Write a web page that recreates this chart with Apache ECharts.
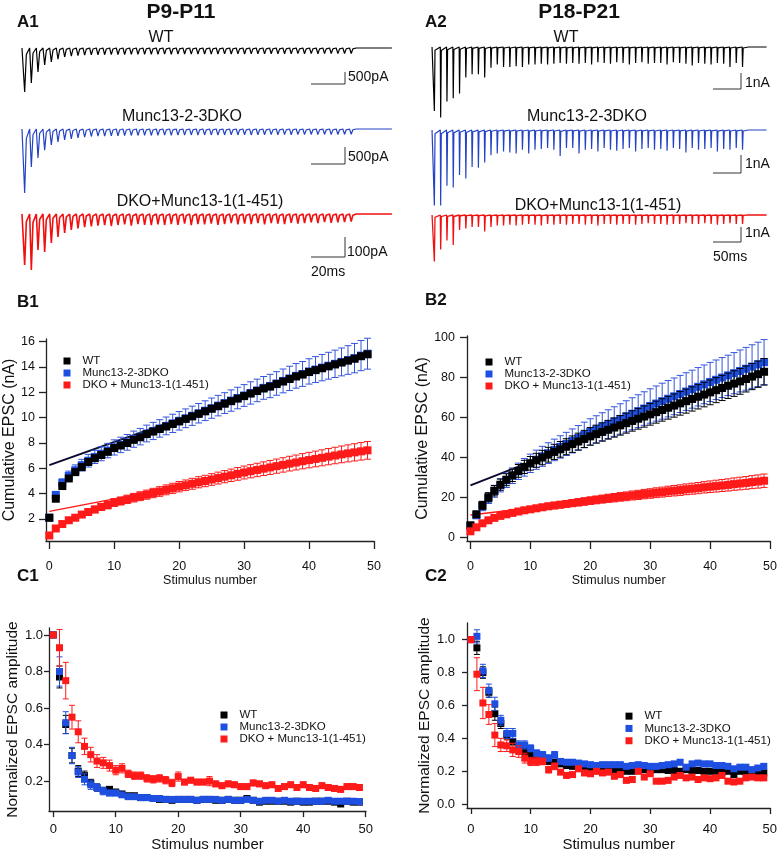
<!DOCTYPE html>
<html><head><meta charset="utf-8">
<script src="https://cdn.jsdelivr.net/npm/echarts@6/dist/echarts.min.js"></script>
<style>html,body{margin:0;padding:0;background:#fff}#chart{width:780px;height:853px}</style>
</head><body><div id="chart"></div>
<script>
// ================= DATA =================
const stimulus = [0,1,2,3,4,5,6,7,8,9,10,11,12,13,14,15,16,17,18,19,20,21,22,23,24,25,26,27,28,29,30,31,32,33,34,35,36,37,38,39,40,41,42,43,44,45,46,47,48,49];
const groupNames = ['WT', 'Munc13-2-3DKO', 'DKO + Munc13-1(1-451)'];
const traceTitles = ['WT', 'Munc13-2-3DKO', 'DKO+Munc13-1(1-451)'];
const panelTitles = ['P9-P11', 'P18-P21'];
const xTicks = [0,10,20,30,40,50];
const yTicksB1 = [2,4,6,8,10,12,14,16];
const yTicksB2 = [0,20,40,60,80,100];
const yTicksC1 = [0.2,0.4,0.6,0.8,1.0];
const yTicksC2 = [0,0.2,0.4,0.6,0.8,1.0];

// A1: EPSC peak amplitudes (pA) per stimulus, P9-P11 example traces
const a1WT  = [1830,1460,1000,710,580,460,375,335,320,300, 290,285,280,275,270,270,265,265,260,260, 260,255,260,255,250,255,250,250,255,250, 245,250,245,250,245,240,245,240,245,240, 240,235,240,235,240,235,230,235,230,230];
const a1KO  = [1880,1120,850,620,470,380,320,290,260,240, 220,210,210,200,200,195,190,190,185,190, 185,180,185,180,180,175,180,175,175,180, 175,170,175,170,175,170,170,165,170,165, 170,165,165,160,165,160,165,160,160,155];
const a1DKO = [255,280,180,190,145,115,95,80,72,66, 62,58,56,60,55,52,58,50,54,56, 52,55,50,54,48,56,50,52,48,54, 50,46,52,48,50,45,52,46,48,50, 44,48,45,42,46,40,44,42,40,38];
// A2: EPSC peak amplitudes (nA), P18-P21 example traces
const a2WT  = [4.0,4.4,3.4,3.2,2.9,1.9,1.7,1.7,1.9,1.3, 1.1,1.25,1.25,1.2,1.25,1.1,1.1,1.05,1.1,1.05, 1.0,1.05,1.0,1.05,1.0,1.1,0.95,1.0,1.05,0.95, 1.0,1.1,1.0,0.95,1.05,1.0,1.0,1.1,0.95,1.0, 1.05,1.15,1.0,1.05,1.1,1.0,1.05,1.25,1.0,1.25];
const a2KO  = [4.2,4.2,3.1,3.2,2.5,2.7,2.05,2.1,1.8,1.4, 1.3,1.2,1.25,1.3,1.1,1.3,1.1,1.05,1.0,1.1, 1.45,1.0,1.0,1.3,1.1,1.05,1.2,1.0,1.1,1.15, 1.05,1.0,1.2,1.05,1.0,1.1,1.05,1.15,1.0,1.05, 1.25,1.0,1.1,1.05,1.0,1.2,1.05,1.1,1.0,1.1];
const a2DKO = [3.1,2.3,1.7,2.0,1.0,0.9,0.8,0.8,1.1,0.8, 0.7,0.7,0.65,0.7,0.65,0.6,0.65,0.7,0.6,0.65, 0.6,0.65,0.6,0.6,0.65,0.6,0.7,0.6,0.6,0.65, 0.6,0.6,0.65,0.6,0.55,0.6,0.6,0.65,0.6,0.6, 0.55,0.6,0.6,0.55,0.6,0.65,0.6,0.55,0.6,0.6];
const stimIntervalA1 = 3.92;   // ms
const stimIntervalA2 = 11.23;  // ms
const scaleBarA1 = [500, 500, 100];   // pA
const scaleBarA1Labels = ['500pA', '500pA', '100pA'];
const scaleBarA2 = [1, 1, 1];         // nA
const scaleBarA2Labels = ['1nA', '1nA', '1nA'];
const scaleBarTime = [20, 50];        // ms
const scaleBarTimeLabels = ['20ms', '50ms'];

// B1: cumulative EPSC (nA), P9-P11
const b1WT  = [2.1,3.6,4.6,5.2,5.7,6.1,6.5,6.8,7.05,7.3, 7.6,7.8,8.0,8.25,8.45,8.7,8.9,9.1,9.3,9.5, 9.7,9.9,10.1,10.3,10.5,10.7,10.9,11.1,11.3,11.5, 11.7,11.9,12.1,12.3,12.45,12.65,12.85,13.05,13.25,13.4, 13.6,13.75,13.9,14.05,14.2,14.35,14.5,14.65,14.85,15.0];
const b1KO  = [2.1,3.9,4.85,5.4,5.85,6.25,6.6,6.9,7.15,7.4, 7.65,7.85,8.05,8.3,8.5,8.75,8.95,9.15,9.35,9.55, 9.75,9.95,10.15,10.35,10.55,10.75,10.95,11.15,11.35,11.55, 11.75,11.95,12.15,12.35,12.5,12.7,12.9,13.1,13.3,13.45, 13.65,13.8,13.95,14.1,14.25,14.4,14.55,14.7,14.9,15.05];
const b1KOerr = [0.1,0.25,0.32,0.38,0.42,0.46,0.5,0.52,0.55,0.57, 0.6,0.61,0.62,0.64,0.65,0.66,0.68,0.69,0.7,0.72, 0.73,0.74,0.76,0.77,0.78,0.8,0.81,0.82,0.84,0.85, 0.86,0.88,0.89,0.9,0.92,0.93,0.94,0.96,0.97,0.98, 1.0,1.02,1.04,1.06,1.08,1.1,1.13,1.16,1.19,1.22];
const b1DKO = [0.7,1.25,1.6,1.9,2.1,2.35,2.55,2.75,2.95,3.1, 3.3,3.42,3.55,3.68,3.8,3.92,4.05,4.17,4.3,4.42, 4.55,4.66,4.78,4.9,5.0,5.12,5.23,5.34,5.45,5.56, 5.67,5.77,5.87,5.97,6.07,6.17,6.27,6.37,6.46,6.56, 6.65,6.74,6.83,6.92,7.01,7.1,7.18,7.26,7.34,7.42];
const b1DKOerr = [0.05,0.1,0.14,0.17,0.2,0.22,0.24,0.26,0.28,0.3, 0.31,0.32,0.33,0.34,0.35,0.36,0.37,0.38,0.39,0.4, 0.41,0.42,0.43,0.44,0.45,0.46,0.47,0.48,0.49,0.5, 0.51,0.52,0.53,0.54,0.55,0.56,0.57,0.58,0.59,0.6, 0.61,0.62,0.63,0.64,0.65,0.66,0.67,0.68,0.69,0.7];
const fitX = [0, 49];
const fitB1WT = [6.25, 15.2];
const fitB1DKO = [2.6, 7.42];

// B2: cumulative EPSC (nA), P18-P21
const b2WT  = [6,11.5,16,20,23.3,26.3,28.8,31,33.2,35.2, 37,38.5,39.9,41.3,42.7,44,45.3,46.6,47.9,49.2, 50.5,51.6,52.7,53.8,54.9,56,57.1,58.2,59.3,60.4, 61.5,62.6,63.7,64.8,65.9,67,68.1,69.2,70.3,71.4, 72.5,73.6,74.7,75.8,76.9,78,79.2,80.4,81.6,82.8];
const b2WTerr = [0.8,1.5,2,2.3,2.6,2.8,3,3.1,3.2,3.3, 3.4,3.5,3.6,3.7,3.8,3.9,4,4.1,4.2,4.3, 4.4,4.5,4.6,4.7,4.8,4.9,5,5.1,5.2,5.3, 5.4,5.5,5.6,5.7,5.8,5.9,6,6.05,6.1,6.15, 6.2,6.25,6.3,6.35,6.4,6.45,6.5,6.55,6.6,6.65];
const b2KO  = [5.5,11,15.5,19.5,23,26,28.5,30.8,33,35, 37,38.8,40.5,42.1,43.7,45.2,46.7,48.2,49.7,51.2, 52.7,54,55.3,56.6,57.9,59.2,60.5,61.8,63.1,64.4, 65.7,66.9,68.1,69.3,70.5,71.7,72.9,74.1,75.3,76.5, 77.7,78.8,79.9,81,82.1,83.2,84.3,85.4,86.5,87.6];
const b2KOerr = [0.8,1.6,2.2,2.6,3,3.3,3.6,3.9,4.1,4.4, 4.6,4.8,5,5.2,5.4,5.6,5.8,6,6.2,6.4, 6.6,6.8,7,7.2,7.4,7.6,7.8,8,8.2,8.4, 8.6,8.8,9,9.1,9.2,9.3,9.4,9.5,9.6,9.7, 9.8,9.9,10,10.1,10.3,10.5,10.7,10.9,11.1,11.3];
const b2DKO = [3,5,7,8.5,9.7,10.7,11.5,12.2,12.9,13.5, 14,14.5,15,15.5,15.9,16.3,16.7,17.1,17.5,17.9, 18.3,18.7,19.1,19.5,19.8,20.2,20.5,20.9,21.2,21.6, 21.9,22.3,22.6,23,23.3,23.6,24,24.3,24.6,25, 25.3,25.6,25.9,26.2,26.6,26.9,27.2,27.6,27.9,28.3];
const b2DKOerr = [0.3,0.5,0.7,0.8,0.9,1,1.1,1.2,1.3,1.35, 1.4,1.45,1.5,1.55,1.6,1.65,1.7,1.75,1.8,1.85, 1.9,1.95,2,2.05,2.1,2.15,2.2,2.25,2.3,2.35, 2.4,2.45,2.5,2.55,2.6,2.65,2.7,2.75,2.8,2.85, 2.9,2.95,3,3.05,3.1,3.15,3.2,3.25,3.3,3.35];
const fitB2WT = [26, 83.4];
const fitB2DKO = [11.2, 28.4];

// C1: normalized EPSC amplitude, P9-P11
const c1WT  = [1.0,0.77,0.51,0.34,0.255,0.23,0.19,0.165,0.15,0.155, 0.14,0.13,0.12,0.12,0.11,0.11,0.105,0.10,0.10,0.095, 0.10,0.10,0.10,0.095,0.10,0.10,0.095,0.095,0.10,0.095, 0.095,0.105,0.095,0.085,0.09,0.09,0.09,0.09,0.085,0.09, 0.085,0.085,0.09,0.09,0.09,0.085,0.075,0.09,0.085,0.085];
const c1WTerr = [0,0.06,0.05,0.04,0.03,0.025,0.02,0.02,0.015,0.015, 0.015,0.012,0.012,0.01,0.01,0.01,0.01,0.01,0.01,0.01, 0.01,0.01,0.01,0.01,0.01,0.01,0.01,0.01,0.01,0.01, 0.01,0.01,0.01,0.01,0.01,0.01,0.01,0.01,0.01,0.01, 0.01,0.01,0.01,0.01,0.01,0.01,0.01,0.01,0.01,0.01];
const c1KO  = [1.0,0.80,0.52,0.34,0.25,0.21,0.18,0.165,0.145,0.135, 0.135,0.125,0.115,0.115,0.11,0.11,0.105,0.105,0.10,0.10, 0.10,0.10,0.10,0.095,0.10,0.10,0.10,0.095,0.10,0.095, 0.095,0.10,0.095,0.09,0.095,0.095,0.09,0.095,0.09,0.09, 0.09,0.09,0.09,0.09,0.095,0.09,0.09,0.09,0.09,0.088];
const c1KOerr = [0,0.08,0.06,0.045,0.03,0.03,0.025,0.02,0.02,0.015, 0.015,0.01,0.01,0.01,0.01,0.01,0.01,0.01,0.01,0.01, 0.01,0.01,0.01,0.01,0.01,0.01,0.01,0.01,0.01,0.01, 0.01,0.01,0.01,0.01,0.01,0.01,0.01,0.01,0.01,0.01, 0.01,0.01,0.01,0.01,0.01,0.01,0.01,0.01,0.01,0.01];
const c1DKO = [1.0,0.93,0.75,0.55,0.47,0.39,0.345,0.31,0.30,0.285, 0.26,0.27,0.24,0.23,0.23,0.215,0.21,0.215,0.205,0.19, 0.225,0.195,0.205,0.195,0.195,0.2,0.185,0.175,0.185,0.18, 0.17,0.17,0.19,0.185,0.175,0.18,0.16,0.17,0.18,0.165, 0.18,0.165,0.16,0.175,0.165,0.16,0.155,0.17,0.17,0.165];
const c1DKOerr = [0,0.1,0.1,0.065,0.06,0.045,0.04,0.035,0.03,0.03, 0.025,0.025,0.02,0.02,0.02,0.02,0.02,0.02,0.02,0.02, 0.025,0.015,0.015,0.015,0.015,0.025,0.015,0.015,0.015,0.015, 0.015,0.015,0.015,0.015,0.015,0.015,0.015,0.015,0.015,0.015, 0.015,0.015,0.015,0.015,0.015,0.015,0.015,0.015,0.015,0.015];

// C2: normalized EPSC amplitude, P18-P21
const c2WT  = [1.0,0.95,0.80,0.68,0.55,0.49,0.42,0.38,0.35,0.32, 0.295,0.28,0.27,0.26,0.255,0.245,0.235,0.23,0.225,0.22, 0.22,0.215,0.21,0.215,0.21,0.215,0.2,0.2,0.205,0.21, 0.205,0.21,0.21,0.205,0.205,0.2,0.21,0.205,0.205,0.2, 0.2,0.2,0.195,0.2,0.18,0.2,0.2,0.2,0.19,0.19];
const c2WTerr = [0,0.04,0.035,0.03,0.04,0.03,0.025,0.02,0.02,0.02, 0.015,0.015,0.015,0.015,0.015,0.01,0.01,0.01,0.01,0.01, 0.01,0.01,0.01,0.01,0.01,0.01,0.01,0.01,0.01,0.01, 0.01,0.01,0.01,0.01,0.01,0.01,0.01,0.01,0.01,0.01, 0.01,0.01,0.01,0.01,0.01,0.01,0.01,0.01,0.01,0.01];
const c2KO  = [1.0,1.02,0.81,0.69,0.61,0.51,0.43,0.43,0.36,0.36, 0.34,0.31,0.30,0.28,0.30,0.26,0.255,0.255,0.25,0.245, 0.24,0.235,0.24,0.24,0.24,0.24,0.23,0.235,0.24,0.235, 0.23,0.23,0.235,0.24,0.245,0.255,0.225,0.245,0.25,0.245, 0.245,0.235,0.235,0.23,0.215,0.225,0.225,0.21,0.22,0.23];
const c2KOerr = [0,0.04,0.04,0.04,0.04,0.03,0.03,0.03,0.025,0.025, 0.02,0.02,0.02,0.02,0.02,0.015,0.015,0.015,0.015,0.015, 0.015,0.015,0.015,0.015,0.015,0.015,0.015,0.015,0.015,0.015, 0.015,0.015,0.015,0.015,0.015,0.015,0.015,0.015,0.015,0.015, 0.015,0.015,0.015,0.015,0.015,0.015,0.015,0.015,0.015,0.015];
const c2DKO = [1.0,0.79,0.615,0.545,0.42,0.36,0.355,0.33,0.32,0.28, 0.26,0.26,0.26,0.21,0.23,0.195,0.175,0.18,0.215,0.19, 0.185,0.2,0.19,0.195,0.17,0.18,0.145,0.15,0.2,0.165, 0.185,0.14,0.14,0.145,0.165,0.175,0.16,0.165,0.15,0.16, 0.155,0.16,0.175,0.14,0.135,0.14,0.16,0.165,0.16,0.16];
const c2DKOerr = [0,0.1,0.095,0.06,0.07,0.04,0.035,0.04,0.035,0.03, 0.025,0.025,0.02,0.02,0.02,0.015,0.015,0.015,0.015,0.015, 0.015,0.015,0.015,0.015,0.015,0.015,0.015,0.015,0.015,0.015, 0.015,0.015,0.015,0.015,0.015,0.015,0.015,0.015,0.015,0.015, 0.015,0.015,0.015,0.015,0.015,0.015,0.015,0.015,0.015,0.015];

// ================= STYLE / LAYOUT =================
const FONT = '"Liberation Sans", Arial, Helvetica, sans-serif';
const COL = {wt:'#000000', ko:'#1f4fe0', dko:'#ff1a1a', koTrace:'#2443c4', dkoTrace:'#f01010', axis:'#222222', text:'#111111'};

const grids = [], xAxes = [], yAxes = [], series = [], legends = [], gfx = [];
let zc = 2;
function addGrid(g, x, y) {
  grids.push(g);
  const i = grids.length - 1;
  xAxes.push(Object.assign({gridIndex: i}, x));
  yAxes.push(Object.assign({gridIndex: i}, y));
  return i;
}
function text(str, x, y, size, opts) {
  opts = opts || {};
  gfx.push({type: 'text', x: x, y: y, silent: true, z: 100,
    style: {text: str, fill: COL.text, font: (opts.bold ? 'bold ' : '') + size + 'px ' + FONT,
      textAlign: opts.align || 'left', textVerticalAlign: 'middle'}});
}

// ---------- A traces ----------
function traceData(amps, dt, shape, tStart, tEnd) {
  const d = [[tStart, 0]];
  amps.forEach((a, i) => {
    const t = stimulus[i] * dt;
    d.push([t, 0], [t + shape[0] * dt, -a], [t + shape[1] * dt, -shape[2] * a]);
  });
  d.push([amps.length * dt, 0], [tEnd, 0]);
  return d;
}
function addTrace(cfg) {
  const up = 14, h = 120;
  const g = addGrid({left: cfg.left, top: cfg.baseY - up, width: cfg.width, height: h},
    {type: 'value', show: false, min: -(cfg.t0x - cfg.left) / cfg.pxPerT, max: (cfg.left + cfg.width - cfg.t0x) / cfg.pxPerT},
    {type: 'value', show: false, min: -(h - up) / cfg.ppu, max: up / cfg.ppu});
  series.push({type: 'line', xAxisIndex: g, yAxisIndex: g, silent: true, symbol: 'none', clip: false, z: zc++,
    data: traceData(cfg.amps, cfg.dt, cfg.shape, cfg.tStart, cfg.tEnd),
    lineStyle: {color: cfg.color, width: cfg.lw}});
  const yb = -(cfg.barY - cfg.baseY) / cfg.ppu;
  const t1 = (cfg.barX - cfg.t0x) / cfg.pxPerT;
  series.push({type: 'line', xAxisIndex: g, yAxisIndex: g, silent: true, symbol: 'none', clip: false, z: zc++,
    data: [[t1, yb], [t1 + cfg.barT, yb], [t1 + cfg.barT, yb + cfg.barU]],
    lineStyle: {color: '#333', width: 1}});
}
const A1 = {left: 20, width: 375, t0x: 23, pxPerT: 1.7, dt: stimIntervalA1, shape: [0.25, 0.5, 0.15], tStart: -0.6, tEnd: 217, barX: 311, barT: scaleBarTime[0]};
const A2 = {left: 428, width: 342, t0x: 434, pxPerT: 0.56, dt: stimIntervalA2, shape: [0.06, 0.16, 0.05], tStart: -3.5, tEnd: 594, barX: 713, barT: scaleBarTime[1]};
addTrace(Object.assign({}, A1, {amps: a1WT,  color: COL.wt,       lw: 1.2, baseY: 48,  ppu: 12 / 500, barY: 84,  barU: scaleBarA1[0]}));
addTrace(Object.assign({}, A1, {amps: a1KO,  color: COL.koTrace,  lw: 1.2, baseY: 129, ppu: 17 / 500, barY: 164, barU: scaleBarA1[1]}));
addTrace(Object.assign({}, A1, {amps: a1DKO, color: COL.dkoTrace, lw: 1.6, baseY: 214, ppu: 20 / 100, barY: 257, barU: scaleBarA1[2]}));
addTrace(Object.assign({}, A2, {amps: a2WT,  color: COL.wt,       lw: 1.2, baseY: 47,  ppu: 16, barY: 89,  barU: scaleBarA2[0]}));
addTrace(Object.assign({}, A2, {amps: a2KO,  color: COL.koTrace,  lw: 1.2, baseY: 130, ppu: 18, barY: 173, barU: scaleBarA2[1]}));
addTrace(Object.assign({}, A2, {amps: a2DKO, color: COL.dkoTrace, lw: 1.3, baseY: 215, ppu: 15, barY: 242, barU: scaleBarA2[2]}));

// ---------- B / C plots ----------
function errRender(cap, lw) {
  return function (params, api) {
    const x = api.value(0), lo = api.value(1), hi = api.value(2);
    const p1 = api.coord([x, hi]), p2 = api.coord([x, lo]);
    const st = {stroke: api.visual('color'), lineWidth: lw};
    return {type: 'group', children: [
      {type: 'line', shape: {x1: p1[0], y1: p1[1], x2: p2[0], y2: p2[1]}, style: st},
      {type: 'line', shape: {x1: p1[0] - cap, y1: p1[1], x2: p1[0] + cap, y2: p1[1]}, style: st},
      {type: 'line', shape: {x1: p2[0] - cap, y1: p2[1], x2: p2[0] + cap, y2: p2[1]}, style: st}
    ]};
  };
}
function addPlot(p) {
  const axisLine = {onZero: false, lineStyle: {color: COL.axis, width: 1.3}};
  const g = addGrid({left: p.left, top: p.top, width: p.width, height: p.height},
    {type: 'value', min: p.x[0], max: p.x[1], splitLine: {show: false}, axisLine: axisLine,
     axisTick: {customValues: xTicks, length: p.xTickLen, lineStyle: {color: COL.axis, width: 1.3}},
     axisLabel: {customValues: xTicks, margin: p.xLabMargin, fontSize: p.tickFont, fontFamily: FONT, color: COL.text},
     name: 'Stimulus number', nameLocation: 'middle', nameGap: p.xNameGap,
     nameTextStyle: {fontSize: p.xNameFont, fontFamily: FONT, color: COL.text}},
    {type: 'value', min: p.y[0], max: p.y[1], splitLine: {show: false}, axisLine: axisLine,
     axisTick: {customValues: p.yTicks, length: p.yTickLen, lineStyle: {color: COL.axis, width: 1.3}},
     axisLabel: {customValues: p.yTicks, margin: p.yLabMargin, fontSize: p.tickFont, fontFamily: FONT, color: COL.text,
       formatter: p.yFmt},
     name: p.yName, nameLocation: 'middle', nameGap: p.yNameGap,
     nameTextStyle: {fontSize: p.yNameFont, fontFamily: FONT, color: COL.text}});
  (p.fits || []).forEach(f => {
    series.push({type: 'line', name: f.name, xAxisIndex: g, yAxisIndex: g, silent: true, symbol: 'none', z: zc++,
      data: fitX.map((x, i) => [x, f.v[i]]), lineStyle: {color: f.color, width: f.w}});
  });
  p.groups.forEach(s => {
    if (s.err) {
      series.push({type: 'custom', name: s.name + ' sem', xAxisIndex: g, yAxisIndex: g, silent: true, z: zc++,
        renderItem: errRender(p.cap, 1), itemStyle: {color: s.errColor || s.color},
        encode: {x: 0, y: [1, 2]},
        data: s.v.map((v, i) => [stimulus[i], v - s.err[i], v + s.err[i]])});
    }
    series.push({type: 'scatter', name: s.name, xAxisIndex: g, yAxisIndex: g, silent: true, z: zc++,
      symbol: 'rect', symbolSize: p.sym, itemStyle: {color: s.color, opacity: 1},
      data: s.v.map((v, i) => [stimulus[i], v])});
  });
  legends.push({left: p.leg[0], top: p.leg[1], orient: 'vertical', padding: 0, itemGap: 0,
    itemWidth: 7, itemHeight: 7, icon: 'rect', selectedMode: false, data: groupNames,
    textStyle: {fontSize: p.legFont, fontFamily: FONT, color: COL.text, lineHeight: p.legLine, padding: [0, 0, 0, 7]}});
}
const fmt1 = v => v.toFixed(1);
// B1
addPlot({left: 46, top: 339, width: 328, height: 202, x: [-0.51, 50], y: [0.262, 16.21], yTicks: yTicksB1,
  xTickLen: 8, yTickLen: 7, xLabMargin: 19, yLabMargin: 11, tickFont: 12.5, xNameGap: 33, xNameFont: 12.5,
  yName: 'Cumulative EPSC (nA)', yNameGap: 27, yNameFont: 16, sym: 8, cap: 3.5, leg: [63.5, 355], legFont: 11.5, legLine: 12,
  fits: [{name: 'fit WT', v: fitB1WT, color: '#0a0a30', w: 2}, {name: 'fit DKO', v: fitB1DKO, color: COL.dko, w: 1.5}],
  groups: [
    {name: groupNames[1], v: b1KO, err: b1KOerr, color: COL.ko, errColor: '#3355dd'},
    {name: groupNames[0], v: b1WT, color: COL.wt},
    {name: groupNames[2], v: b1DKO, err: b1DKOerr, color: COL.dko}]});
// B2
addPlot({left: 467, top: 336, width: 304, height: 205, x: [-0.57, 50.05], y: [-1.86, 100.7], yTicks: yTicksB2,
  xTickLen: 8, yTickLen: 7, xLabMargin: 19, yLabMargin: 12, tickFont: 12.5, xNameGap: 32, xNameFont: 12.5,
  yName: 'Cumulative EPSC (nA)', yNameGap: 28, yNameFont: 16, sym: 8, cap: 3.5, leg: [485.5, 356], legFont: 11.5, legLine: 12,
  fits: [{name: 'fit WT', v: fitB2WT, color: '#0a0a30', w: 2}, {name: 'fit DKO', v: fitB2DKO, color: COL.dko, w: 1.5}],
  groups: [
    {name: groupNames[1], v: b2KO, err: b2KOerr, color: COL.ko, errColor: '#3355dd'},
    {name: groupNames[0], v: b2WT, err: b2WTerr, color: COL.wt},
    {name: groupNames[2], v: b2DKO, err: b2DKOerr, color: COL.dko}]});
// C1
addPlot({left: 49, top: 628, width: 317, height: 185, x: [-0.68, 50.05], y: [0.036, 1.038], yTicks: yTicksC1, yFmt: fmt1,
  xTickLen: 6, yTickLen: 5, xLabMargin: 12, yLabMargin: 6, tickFont: 13, xNameGap: 25, xNameFont: 15,
  yName: 'Normalized EPSC amplitude', yNameGap: 27, yNameFont: 15.5, sym: 7, cap: 3, leg: [220.5, 709], legFont: 11.5, legLine: 12,
  groups: [
    {name: groupNames[0], v: c1WT, err: c1WTerr, color: COL.wt},
    {name: groupNames[1], v: c1KO, err: c1KOerr, color: COL.ko},
    {name: groupNames[2], v: c1DKO, err: c1DKOerr, color: COL.dko}]});
// C2
addPlot({left: 467, top: 623, width: 306, height: 185, x: [-0.66, 50.1], y: [-0.023, 1.101], yTicks: yTicksC2, yFmt: fmt1,
  xTickLen: 6, yTickLen: 5, xLabMargin: 15, yLabMargin: 12, tickFont: 13, xNameGap: 29, xNameFont: 15,
  yName: 'Normalized EPSC amplitude', yNameGap: 30, yNameFont: 15.5, sym: 7, cap: 3, leg: [625.5, 710], legFont: 11.5, legLine: 12.3,
  groups: [
    {name: groupNames[0], v: c2WT, err: c2WTerr, color: COL.wt},
    {name: groupNames[1], v: c2KO, err: c2KOerr, color: COL.ko},
    {name: groupNames[2], v: c2DKO, err: c2DKOerr, color: COL.dko}]});

// ---------- texts ----------
text(panelTitles[0], 181, 12, 21, {bold: true, align: 'center'});
text(panelTitles[1], 579, 12, 21, {bold: true, align: 'center'});
[['A1', 17, 22], ['A2', 425, 22], ['B1', 17, 302], ['B2', 425, 300], ['C1', 17, 576], ['C2', 425, 576]]
  .forEach(l => text(l[0], l[1], l[2], 17, {bold: true}));
text(traceTitles[0], 161, 38, 16, {align: 'center'});
text(traceTitles[1], 182, 117, 16, {align: 'center'});
text(traceTitles[2], 200, 202, 16, {align: 'center'});
text(traceTitles[0], 566, 38, 16, {align: 'center'});
text(traceTitles[1], 587, 117, 16, {align: 'center'});
text(traceTitles[2], 598, 206, 16, {align: 'center'});
text(scaleBarA1Labels[0], 348, 77, 14);
text(scaleBarA1Labels[1], 348, 157, 14);
text(scaleBarA1Labels[2], 347, 252, 14);
text(scaleBarTimeLabels[0], 311, 272, 14);
text(scaleBarA2Labels[0], 745, 83, 14);
text(scaleBarA2Labels[1], 745, 164, 14);
text(scaleBarA2Labels[2], 745, 233, 14);
text(scaleBarTimeLabels[1], 713, 257, 14);

const chart = echarts.init(document.getElementById('chart'), null, {renderer: 'canvas'});
chart.setOption({
  animation: false, backgroundColor: '#ffffff',
  grid: grids, xAxis: xAxes, yAxis: yAxes, series: series, legend: legends,
  graphic: {elements: gfx}
});
</script></body></html>
